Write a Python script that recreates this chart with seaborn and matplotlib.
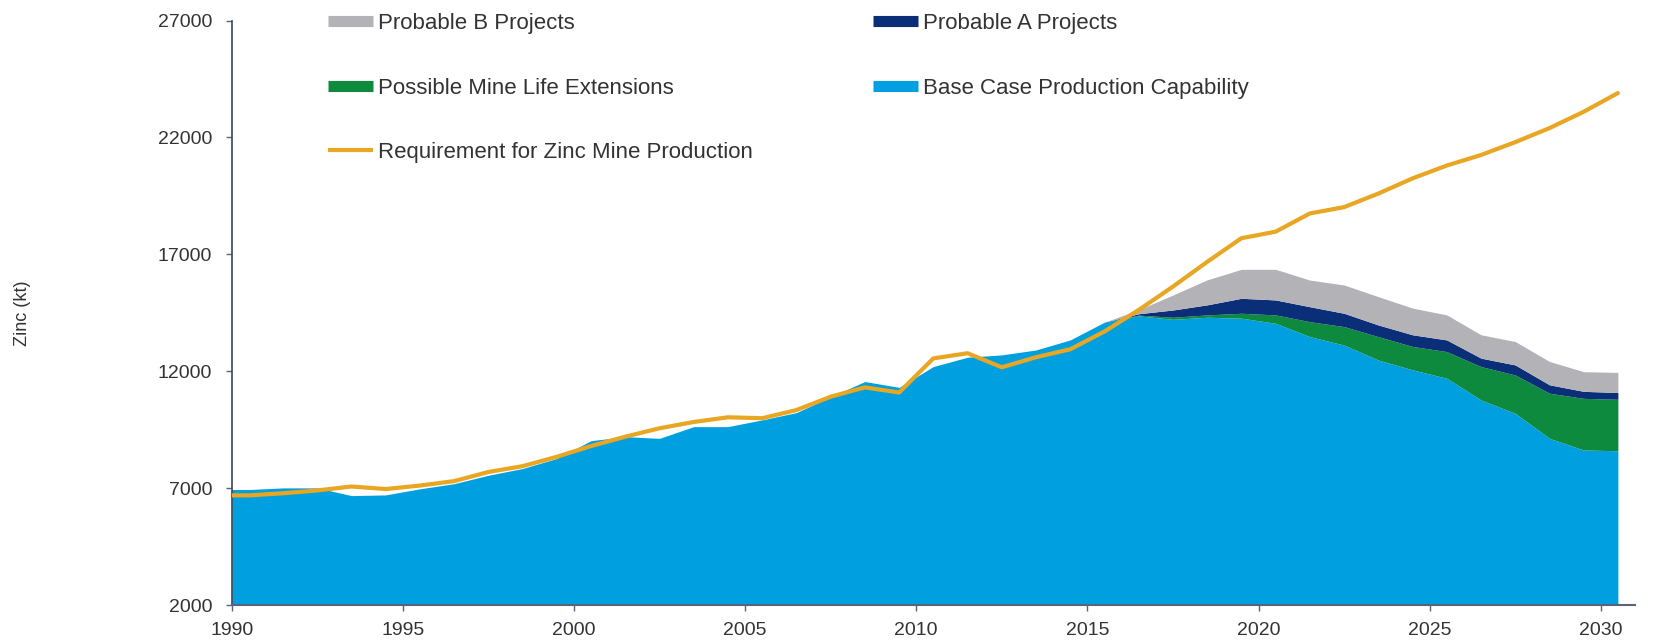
import numpy as np
import matplotlib
matplotlib.use("Agg")
import matplotlib.pyplot as plt
import seaborn as sns
from matplotlib.lines import Line2D

# Zinc mine production outlook (kt), one value per year
years = np.arange(1990, 2031)

base_case = [6940, 7010, 7010, 6680, 6710, 6970, 7190, 7550, 7840, 8270,
             9030, 9200, 9130, 9630, 9630, 9920, 10230, 10910, 11560, 11310,
             12200, 12600, 12700, 12910, 13340, 14100, 14370, 14220, 14310, 14270,
             14050, 13480, 13120, 12480, 12060, 11700, 10770, 10200, 9130, 8630,
             8600]
mine_life_ext = [0] * 26 + [30, 90, 100, 210, 360, 640, 790, 1000, 1000, 1140,
                            1430, 1640, 1930, 2210, 2200]
probable_a = [0] * 26 + [60, 310, 430, 640, 640, 640, 570, 500, 500, 500,
                         360, 430, 360, 300, 290]
probable_b = [0] * 26 + [170, 640, 1070, 1240, 1310, 1140, 1210, 1210, 1140, 1070,
                         1000, 1000, 1000, 840, 860]
requirement = [6690, 6780, 6900, 7070, 6960, 7110, 7300, 7690, 7940, 8340,
               8800, 9200, 9560, 9830, 10030, 9990, 10340, 10910, 11310, 11090,
               12550, 12770, 12170, 12600, 12940, 13700, 14620, 15620, 16680, 17690,
               17970, 18750, 19020, 19600, 20250, 20800, 21250, 21800, 22400, 23100,
               23900]

labels = ["Base Case Production Capability", "Possible Mine Life Extensions",
          "Probable A Projects", "Probable B Projects"]
colors = ["#00A0E0", "#0E8A3E", "#0B2E78", "#B3B3B7"]
line_color = "#E8A623"

sns.set_style("white")
plt.rcParams["font.family"] = ["Liberation Sans", "DejaVu Sans"]

fig = plt.figure(figsize=(16.57, 6.44), dpi=100)
ax = fig.add_axes([231.7 / 1657, 1 - 605 / 644, (1635 - 231.7) / 1657, (605 - 20.6) / 644])

# values are mid-year; hold the first value back to the axis edge
x = np.r_[years[0], years + 0.5]
stack = [np.r_[s[0], s] for s in (base_case, mine_life_ext, probable_a, probable_b)]
ax.stackplot(x, *stack, colors=colors, linewidth=0, zorder=1)

sns.lineplot(x=x, y=np.r_[requirement[0], requirement], color=line_color,
             linewidth=3, ax=ax, zorder=3)

ax.set_xlim(1990, 2031)
ax.set_ylim(2000, 27000)
ax.set_xticks(np.arange(1990, 2031, 5))
ax.set_yticks(np.arange(2000, 27001, 5000))
ax.set_xlabel("")
ax.set_ylabel("Zinc (kt)", fontsize=13, color="#333333")
ax.yaxis.set_label_coords(-0.143, 0.5)

for side in ("top", "right"):
    ax.spines[side].set_visible(False)
ax.spines["left"].set_color("#3A4660")
ax.spines["bottom"].set_color("#5A6478")
ax.spines["left"].set_linewidth(1.2)
ax.spines["bottom"].set_linewidth(1.5)
ax.tick_params(axis="both", which="both", direction="out", length=4, width=1,
               bottom=True, left=True,
               colors="#5A6478", labelcolor="#333333", labelsize=14)
ax.tick_params(axis="y", pad=10)
ax.tick_params(axis="x", pad=8)
ax.grid(False)

handles = [
    Line2D([0], [0], color=colors[3], lw=8, solid_capstyle="butt"),
    Line2D([0], [0], color=colors[1], lw=8, solid_capstyle="butt"),
    Line2D([0], [0], color=line_color, lw=3, solid_capstyle="butt"),
    Line2D([0], [0], color=colors[2], lw=8, solid_capstyle="butt"),
    Line2D([0], [0], color=colors[0], lw=8, solid_capstyle="butt"),
]
names = [labels[3], labels[1], "Requirement for Zinc Mine Production",
         labels[2], labels[0]]
fig.legend(handles, names, ncol=2, loc="upper left",
           bbox_to_anchor=(328 / 1657, 1 - 13 / 644), frameon=False,
           fontsize=16, labelcolor="#333333", handlelength=2.03,
           handletextpad=0.23, labelspacing=1.96, columnspacing=5.4,
           borderpad=0, borderaxespad=0)

fig.savefig("out.png", dpi=100, facecolor="white")
